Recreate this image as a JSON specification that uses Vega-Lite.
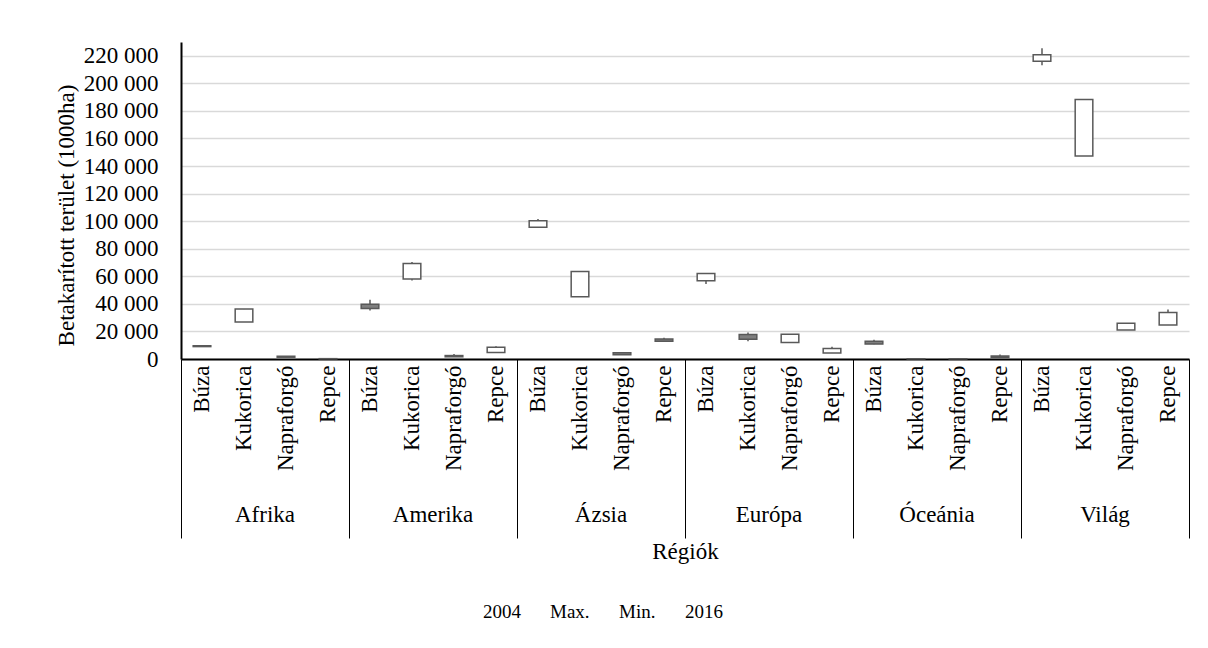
{
  "$schema": "https://vega.github.io/schema/vega-lite/v6.json",
  "width": 1008,
  "height": 317,
  "autosize": "none",
  "padding": {"left": 181, "top": 42, "right": 19, "bottom": 289},
  "background": "white",
  "config": {
    "font": "Liberation Serif",
    "view": {"stroke": null},
    "axis": {"labelColor": "black", "titleColor": "black", "titleFontWeight": "normal", "labelFontSize": 23, "titleFontSize": 23, "labelFont": "Liberation Serif", "titleFont": "Liberation Serif"},
    "legend": {"labelFont": "Liberation Serif"}
  },
  "data": {
    "values": [
      {"Régió": "Afrika", "Növény": "Búza", "2004": 9600, "Max": 9800, "Min": 8900, "2016": 9000},
      {"Régió": "Afrika", "Növény": "Kukorica", "2004": 26800, "Max": 36200, "Min": 26800, "2016": 36200},
      {"Régió": "Afrika", "Növény": "Napraforgó", "2004": 2000, "Max": 2100, "Min": 1200, "2016": 1300},
      {"Régió": "Afrika", "Növény": "Repce", "2004": 100, "Max": 300, "Min": 100, "2016": 250},
      {"Régió": "Amerika", "Növény": "Búza", "2004": 39800, "Max": 42900, "Min": 35100, "2016": 36700},
      {"Régió": "Amerika", "Növény": "Kukorica", "2004": 58000, "Max": 70300, "Min": 57000, "2016": 69300},
      {"Régió": "Amerika", "Növény": "Napraforgó", "2004": 2500, "Max": 3600, "Min": 1400, "2016": 1600},
      {"Régió": "Amerika", "Növény": "Repce", "2004": 4800, "Max": 9200, "Min": 4800, "2016": 8500},
      {"Régió": "Ázsia", "Növény": "Búza", "2004": 95600, "Max": 101500, "Min": 95600, "2016": 100300},
      {"Régió": "Ázsia", "Növény": "Kukorica", "2004": 45100, "Max": 63400, "Min": 45100, "2016": 63400},
      {"Régió": "Ázsia", "Növény": "Napraforgó", "2004": 4600, "Max": 4800, "Min": 3000, "2016": 3100},
      {"Régió": "Ázsia", "Növény": "Repce", "2004": 14500, "Max": 15500, "Min": 12700, "2016": 12800},
      {"Régió": "Európa", "Növény": "Búza", "2004": 56700, "Max": 62000, "Min": 54500, "2016": 62000},
      {"Régió": "Európa", "Növény": "Kukorica", "2004": 17800, "Max": 19300, "Min": 12800, "2016": 14400},
      {"Régió": "Európa", "Növény": "Napraforgó", "2004": 11900, "Max": 17900, "Min": 11900, "2016": 17900},
      {"Régió": "Európa", "Növény": "Repce", "2004": 4400, "Max": 8900, "Min": 4400, "2016": 7700},
      {"Régió": "Óceánia", "Növény": "Búza", "2004": 12800, "Max": 14000, "Min": 10700, "2016": 10800},
      {"Régió": "Óceánia", "Növény": "Kukorica", "2004": 100, "Max": 200, "Min": 80, "2016": 150},
      {"Régió": "Óceánia", "Növény": "Napraforgó", "2004": 150, "Max": 250, "Min": 50, "2016": 100},
      {"Régió": "Óceánia", "Növény": "Repce", "2004": 1100, "Max": 3300, "Min": 900, "2016": 2200},
      {"Régió": "Világ", "Növény": "Búza", "2004": 216000, "Max": 225500, "Min": 213100, "2016": 220700},
      {"Régió": "Világ", "Növény": "Kukorica", "2004": 147300, "Max": 188200, "Min": 147300, "2016": 188200},
      {"Régió": "Világ", "Növény": "Napraforgó", "2004": 21000, "Max": 26000, "Min": 21000, "2016": 26000},
      {"Régió": "Világ", "Növény": "Repce", "2004": 24700, "Max": 35900, "Min": 24700, "2016": 33700}
    ]
  },
  "transform": [{"calculate": "datum['Régió'] + '|' + datum['Növény']", "as": "Kategória"}],
  "layer": [
    {
      "mark": {"type": "rule", "color": "#595959", "strokeWidth": 1.5},
      "encoding": {
        "x": {
          "field": "Kategória", "type": "nominal", "sort": null,
          "scale": {"type": "band", "paddingInner": 0, "paddingOuter": 0},
          "axis": {
            "orient": "bottom", "labelExpr": "split(datum.value, '|')[1]", "labelAngle": -90,
            "labelPadding": 6, "ticks": false, "domain": true, "domainColor": "black", "domainWidth": 2,
            "grid": false, "labelOverlap": false, "labelFlush": false,
            "title": "Régiók", "titleY": 192, "titleBaseline": "middle"
          }
        },
        "y": {
          "field": "Min", "type": "quantitative",
          "scale": {"domain": [0, 230000], "nice": false, "zero": true},
          "axis": {
            "orient": "left",
            "title": "Betakarított terület (1000ha)", "titleX": -115, "titleY": 173, "titleBaseline": "middle",
            "values": [0, 20000, 40000, 60000, 80000, 100000, 120000, 140000, 160000, 180000, 200000, 220000],
            "labelExpr": "replace(format(datum.value, ','), ',', ' ')",
            "grid": true, "gridColor": "#d9d9d9", "gridWidth": 1.5, "ticks": false,
            "domainColor": "black", "domainWidth": 2, "labelPadding": 23
          }
        },
        "y2": {"field": "Max"}
      }
    },
    {
      "mark": {"type": "bar", "stroke": "#595959", "strokeWidth": 1.5, "width": {"band": 0.42}},
      "encoding": {
        "x": {
          "field": "Kategória", "type": "nominal", "sort": null,
          "scale": {"type": "band", "paddingInner": 0, "paddingOuter": 0},
          "axis": {
            "orient": "bottom",
            "values": ["Afrika|Búza", "Amerika|Búza", "Ázsia|Búza", "Európa|Búza", "Óceánia|Búza", "Világ|Búza"],
            "bandPosition": 0, "tickSize": 179, "tickColor": "black", "tickWidth": 1,
            "labelExpr": "split(datum.value, '|')[0]", "labelOffset": 63, "labelPadding": -35,
            "labelAngle": 0, "labelAlign": "center", "labelBaseline": "top", "labelOverlap": false, "labelFlush": false,
            "domain": false, "grid": false, "title": null
          }
        },
        "y": {"field": "2004", "type": "quantitative", "axis": null},
        "y2": {"field": "2016"},
        "fill": {"condition": {"test": "datum['2016'] < datum['2004']", "value": "#7f7f7f"}, "value": "white"}
      }
    },
    {
      "mark": {"type": "tick", "opacity": 0},
      "encoding": {
        "x": {
          "field": "Kategória", "type": "nominal", "sort": null,
          "scale": {"type": "band", "paddingInner": 0, "paddingOuter": 0},
          "axis": {
            "orient": "bottom", "values": ["Világ|Repce"], "bandPosition": 1,
            "tickSize": 179, "tickColor": "black", "tickWidth": 1,
            "labels": false, "domain": false, "grid": false, "title": null
          }
        },
        "y": {"field": "2016", "type": "quantitative", "axis": null}
      }
    },
    {
      "transform": [{"fold": ["2004", "Max", "Min", "2016"], "as": ["Sorozat", "Érték"]}],
      "mark": {"type": "point", "opacity": 0},
      "encoding": {
        "x": {
          "field": "Kategória", "type": "nominal", "sort": null,
          "scale": {"type": "band", "paddingInner": 0, "paddingOuter": 0},
          "axis": null
        },
        "y": {"field": "Érték", "type": "quantitative", "axis": null},
        "color": {
          "field": "Sorozat", "type": "nominal",
          "scale": {"domain": ["2004", "Max", "Min", "2016"], "range": ["#595959", "#595959", "#595959", "#595959"]},
          "legend": {
            "title": null, "orient": "none", "direction": "horizontal", "legendX": 283, "legendY": 560,
            "labelExpr": "datum.label == 'Max' ? 'Max.' : (datum.label == 'Min' ? 'Min.' : datum.label)",
            "symbolSize": 0, "symbolStrokeWidth": 0, "symbolOpacity": 0, "labelOffset": 0,
            "columnPadding": 10, "padding": 0, "labelFontSize": 19, "labelColor": "black"
          }
        }
      }
    }
  ],
  "resolve": {"axis": {"x": "independent", "y": "independent"}}
}
